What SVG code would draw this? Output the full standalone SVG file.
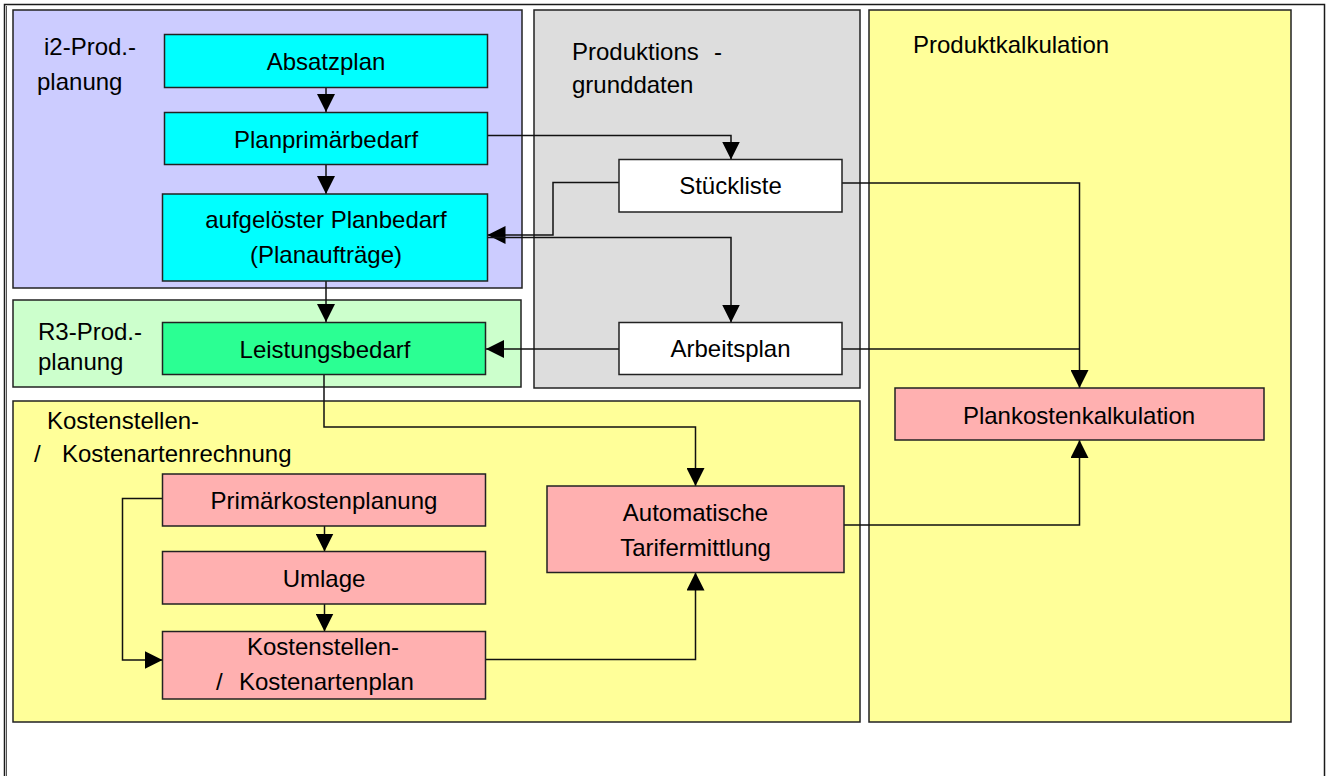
<svg xmlns="http://www.w3.org/2000/svg" width="1326" height="776" viewBox="0 0 1326 776">
  <style>
    .frame { fill: #ffffff; stroke: #1a1a1a; stroke-width: 1.5; }
    .grp { stroke: #222222; stroke-width: 1.5; }
    .box { stroke: #222222; stroke-width: 1.5; }
    .i2 { fill: #CCCCFF; }
    .r3 { fill: #CCFFCC; }
    .pgd { fill: #DDDDDD; }
    .yel { fill: #FFFF99; }
    .cyan { fill: #00FFFF; }
    .green { fill: #2BFF93; }
    .white { fill: #FFFFFF; }
    .pink { fill: #FFB0B0; }
    text { font-family: "Liberation Sans", Arial, sans-serif; font-size: 24px; fill: #000000; }
    .c { text-anchor: middle; }
    .conn path { fill: none; stroke: #111111; stroke-width: 1.5; }
    .conn .arr { marker-end: url(#head); }
  </style>
  <defs>
    <marker id="head" markerUnits="userSpaceOnUse" markerWidth="19" markerHeight="18" refX="18" refY="9" orient="auto" viewBox="0 0 19 18">
      <path d="M0,0 L18,9 L0,18 z" fill="#000000"/>
    </marker>
  </defs>

  <!-- page frame -->
  <rect class="frame" x="4.5" y="4.5" width="1320" height="800"/>
  <line x1="6.5" y1="6" x2="6.5" y2="776" stroke="#555555" stroke-width="1"/>

  <!-- swimlane groups -->
  <g id="lane-i2">
    <rect class="grp i2" x="13" y="10" width="509" height="278"/>
    <text x="44" y="55">i2-Prod.-</text>
    <text x="37" y="90">planung</text>
  </g>
  <g id="lane-r3">
    <rect class="grp r3" x="13" y="300" width="508" height="87"/>
    <text x="38" y="340">R3-Prod.-</text>
    <text x="38" y="370">planung</text>
  </g>
  <g id="lane-grunddaten">
    <rect class="grp pgd" x="534" y="10" width="326" height="378"/>
    <text x="572" y="60">Produktions</text>
    <text x="714" y="60">-</text>
    <text x="572" y="93">grunddaten</text>
  </g>
  <g id="lane-kostenstellen">
    <rect class="grp yel" x="13" y="401" width="847" height="321"/>
    <text x="47" y="429">Kostenstellen-</text>
    <text x="34" y="462">/</text>
    <text x="62" y="462">Kostenartenrechnung</text>
  </g>
  <g id="lane-produktkalkulation">
    <rect class="grp yel" x="869" y="10" width="422" height="712"/>
    <text x="913" y="53">Produktkalkulation</text>
  </g>

  <!-- connectors -->
  <g id="connectors" class="conn">
    <path class="arr" d="M326,87 V112"/>
    <path class="arr" d="M326,165 V194"/>
    <path class="arr" d="M326,281 V322"/>
    <path class="arr" d="M487.5,135.5 H731 V159.5"/>
    <path class="arr" d="M619,182.5 H553 V235 H487.5"/>
    <path class="arr" d="M487.5,237.5 H731 V322.5"/>
    <path class="arr" d="M619,349 H486"/>
    <path class="arr" d="M842,183 H1079.5 V388"/>
    <path d="M842,349 H1079.5"/>
    <path class="arr" d="M844,525 H1079.5 V440"/>
    <path class="arr" d="M324,374.5 V427 H695.5 V486"/>
    <path class="arr" d="M324.5,526 V551.5"/>
    <path class="arr" d="M324.5,604 V631.5"/>
    <path class="arr" d="M162.5,498.5 H122.5 V660 H162.5"/>
    <path class="arr" d="M485.5,659.5 H695.5 V572.5"/>
  </g>

  <!-- nodes -->
  <g id="absatzplan">
    <rect class="box cyan" x="164.5" y="34.5" width="323" height="53"/>
    <text class="c" x="326" y="70">Absatzplan</text>
  </g>
  <g id="planprimaerbedarf">
    <rect class="box cyan" x="164.5" y="112.5" width="323" height="52"/>
    <text class="c" x="326" y="148">Planprimärbedarf</text>
  </g>
  <g id="planbedarf">
    <rect class="box cyan" x="162.5" y="194" width="325" height="87"/>
    <text class="c" x="326" y="228">aufgelöster Planbedarf</text>
    <text class="c" x="326" y="263">(Planaufträge)</text>
  </g>
  <g id="leistungsbedarf">
    <rect class="box green" x="162.5" y="322.5" width="323" height="52"/>
    <text class="c" x="325" y="358">Leistungsbedarf</text>
  </g>
  <g id="stueckliste">
    <rect class="box white" x="619" y="159.5" width="223" height="52.5"/>
    <text class="c" x="730.5" y="194">Stückliste</text>
  </g>
  <g id="arbeitsplan">
    <rect class="box white" x="619" y="322.5" width="223" height="52"/>
    <text class="c" x="730.5" y="357">Arbeitsplan</text>
  </g>
  <g id="plankostenkalkulation">
    <rect class="box pink" x="895" y="388" width="369" height="52"/>
    <text class="c" x="1079" y="424">Plankostenkalkulation</text>
  </g>
  <g id="primaerkostenplanung">
    <rect class="box pink" x="162.5" y="474" width="323" height="52"/>
    <text class="c" x="324" y="509">Primärkostenplanung</text>
  </g>
  <g id="umlage">
    <rect class="box pink" x="162.5" y="551.5" width="323" height="52.5"/>
    <text class="c" x="324" y="587">Umlage</text>
  </g>
  <g id="kostenartenplan">
    <rect class="box pink" x="162.5" y="631.5" width="323" height="67.5"/>
    <text x="247" y="655">Kostenstellen-</text>
    <text x="216" y="690">/</text>
    <text x="239" y="690">Kostenartenplan</text>
  </g>
  <g id="tarifermittlung">
    <rect class="box pink" x="547" y="486" width="297" height="86.5"/>
    <text class="c" x="695.5" y="521">Automatische</text>
    <text class="c" x="695.5" y="556">Tarifermittlung</text>
  </g>
</svg>
